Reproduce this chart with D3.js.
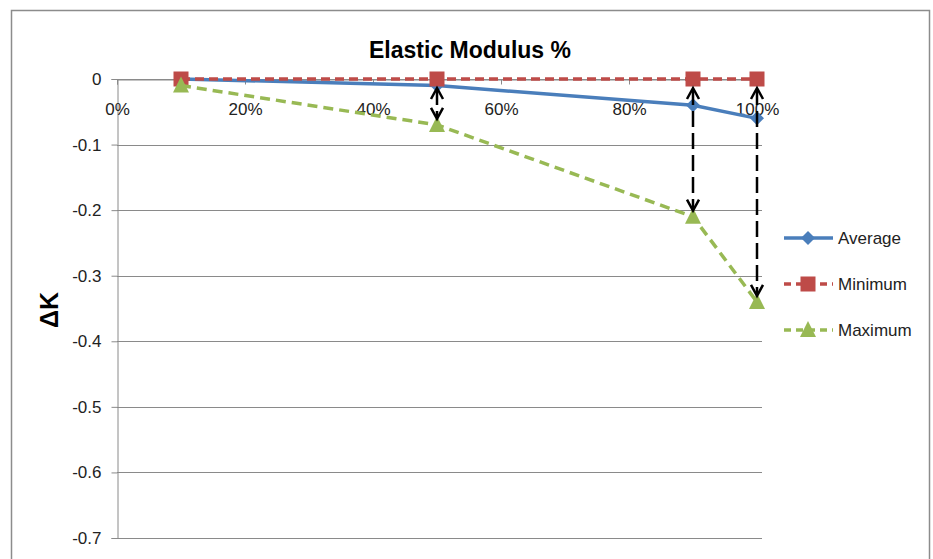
<!DOCTYPE html>
<html>
<head>
<meta charset="utf-8">
<script src="https://cdn.jsdelivr.net/npm/d3@7"></script>
<style>
  html, body { margin: 0; padding: 0; background: #fff; }
  svg { display: block; font-family: "Liberation Sans", Arial, sans-serif; }
</style>
</head>
<body>
<div id="chart"></div>
<script>
// chart data
const xPositions = [0.1, 0.5, 0.9, 1.0]
const averageValues = [0, -0.01, -0.04, -0.06]
const minimumValues = [0, 0, 0, 0]
const maximumValues = [-0.01, -0.07, -0.21, -0.34]
const xTicks = [0, 0.2, 0.4, 0.6, 0.8, 1.0]
const yTicks = [0, -0.1, -0.2, -0.3, -0.4, -0.5, -0.6, -0.7]
const seriesNames = ['Average', 'Minimum', 'Maximum']
// arrows between minimum and maximum (index into xPositions)
const arrowIdx = [1, 2, 3]

const width = 933, height = 559
const svg = d3.select('#chart').append('svg')
  .attr('width', width).attr('height', height)

// outer chart border
svg.append('rect')
  .attr('x', 11.5).attr('y', 10.5)
  .attr('width', 918).attr('height', 600)
  .attr('fill', '#fff').attr('stroke', '#8c8c8c').attr('stroke-width', 1.5)

const x = d3.scaleLinear().domain([0, 1]).range([117, 757])
const y = d3.scaleLinear().domain([0, -0.7]).range([79, 538])

// gridlines
svg.append('g')
  .selectAll('line')
  .data(yTicks)
  .join('line')
  .attr('x1', x(0)).attr('x2', 762)
  .attr('y1', d => Math.round(y(d)) + 0.5).attr('y2', d => Math.round(y(d)) + 0.5)
  .attr('stroke', '#8a8a8a').attr('stroke-width', 1)

// y axis
const yAxis = svg.append('g')
  .attr('transform', `translate(${x(0) + 0.5},0)`)
  .call(d3.axisLeft(y).tickValues(yTicks).tickSize(6).tickPadding(10)
    .tickFormat(d => d === 0 ? '0' : d3.format('.1f')(d).replace('−', '-')))
yAxis.select('.domain').attr('stroke', '#8a8a8a')
yAxis.selectAll('.tick line').attr('stroke', '#8a8a8a')
yAxis.selectAll('.tick text')
  .attr('fill', '#222').style('font-size', '17px').style('font-family', 'inherit')

// x axis at y = 0, labels sitting below
const xAxis = svg.append('g')
  .attr('transform', `translate(0,${Math.round(y(0)) + 0.5})`)
  .call(d3.axisBottom(x).tickValues(xTicks).tickSize(5).tickPadding(18)
    .tickFormat(d3.format('.0%')))
xAxis.select('.domain').attr('stroke', '#8a8a8a')
xAxis.selectAll('.tick line').attr('stroke', '#8a8a8a')
xAxis.selectAll('.tick text')
  .attr('fill', '#222').style('font-size', '17px').style('font-family', 'inherit')

const series = [
  { name: seriesNames[0], values: averageValues, color: '#4a7ebb', dash: null, marker: 'diamond' },
  { name: seriesNames[1], values: minimumValues, color: '#be4b48', dash: '9,5', marker: 'square' },
  { name: seriesNames[2], values: maximumValues, color: '#98b954', dash: '10,6', marker: 'triangle' }
]

const line = d3.line().x(d => x(d[0])).y(d => y(d[1]))

function drawMarker(g, type, color) {
  if (type === 'diamond') {
    g.append('path').attr('d', 'M0,-7L7,0L0,7L-7,0Z').attr('fill', color)
  } else if (type === 'square') {
    g.append('rect').attr('x', -7.5).attr('y', -7.5).attr('width', 15).attr('height', 15).attr('fill', color)
  } else {
    g.append('path').attr('d', 'M0,-9L8,7L-8,7Z').attr('fill', color)
  }
}

series.forEach(s => {
  const pts = xPositions.map((p, i) => [p, s.values[i]])
  svg.append('path')
    .datum(pts)
    .attr('d', line)
    .attr('fill', 'none')
    .attr('stroke', s.color)
    .attr('stroke-width', 3.5)
    .attr('stroke-dasharray', s.dash)
  pts.forEach(p => {
    const g = svg.append('g').attr('transform', `translate(${x(p[0])},${y(p[1])})`)
    drawMarker(g, s.marker, s.color)
  })
})

// double-headed dashed arrows
const arrows = svg.append('g')
arrowIdx.forEach(i => {
  const ax = x(xPositions[i])
  const y1 = y(minimumValues[i]) + 9
  const y2 = y(maximumValues[i]) - 6
  arrows.append('line')
    .attr('x1', ax).attr('x2', ax).attr('y1', y1 + 1).attr('y2', y2 - 1)
    .attr('stroke', '#000').attr('stroke-width', 2.5)
    .attr('stroke-dasharray', '16,6')
  arrows.append('path')
    .attr('d', `M${ax - 6},${y1 + 11}L${ax},${y1}L${ax + 6},${y1 + 11}`)
    .attr('fill', 'none').attr('stroke', '#000').attr('stroke-width', 2.5)
  arrows.append('path')
    .attr('d', `M${ax - 6},${y2 - 11}L${ax},${y2}L${ax + 6},${y2 - 11}`)
    .attr('fill', 'none').attr('stroke', '#000').attr('stroke-width', 2.5)
})

// title
svg.append('text')
  .attr('x', 470).attr('y', 58)
  .attr('text-anchor', 'middle')
  .style('font-size', '23px').style('font-weight', 'bold')
  .text('Elastic Modulus %')

// y axis title
svg.append('text')
  .attr('transform', 'translate(58,310) rotate(-90)')
  .attr('text-anchor', 'middle')
  .style('font-size', '25px').style('font-weight', 'bold')
  .text('ΔK')

// legend
const legend = svg.append('g')
series.forEach((s, i) => {
  const ly = 238 + i * 46
  const g = legend.append('g').attr('transform', `translate(0,${ly})`)
  g.append('line')
    .attr('x1', 784).attr('x2', 833).attr('y1', 0).attr('y2', 0)
    .attr('stroke', s.color).attr('stroke-width', 3.5)
    .attr('stroke-dasharray', s.dash ? '7,5' : null)
  const m = g.append('g').attr('transform', 'translate(808,0)')
  drawMarker(m, s.marker, s.color)
  g.append('text')
    .attr('x', 838).attr('y', 6)
    .style('font-size', '17px')
    .attr('fill', '#222')
    .text(s.name)
})
</script>
</body>
</html>
